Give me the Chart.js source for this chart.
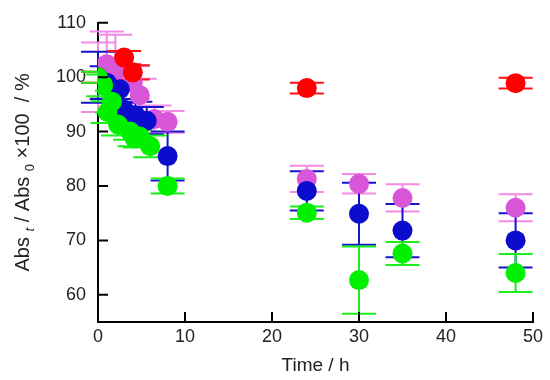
<!DOCTYPE html>
<html>
<head>
<meta charset="utf-8">
<script src="https://cdn.jsdelivr.net/npm/chart.js@4.4.1/dist/chart.umd.min.js"></script>
<style>
  html, body { margin: 0; padding: 0; background: #fff; }
  #wrap { width: 550px; height: 380px; }
</style>
</head>
<body>
<div id="wrap"><canvas id="chart"></canvas></div>
<script>
const xTicks = [0, 10, 20, 30, 40, 50];
const yTicks = [60, 70, 80, 90, 100, 110];

const redTime  = [0, 3, 4, 24, 48];
const redValue = [100, 103.6, 100.9, 98.0, 98.9];
const redError = [1, 1.2, 1.3, 1.0, 1.0];

const blueTime  = [0, 1, 2.5, 3, 4.3, 5.6, 8, 24, 30, 35, 48];
const blueValue = [100, 99.0, 97.8, 94.0, 93.0, 92.0, 85.5, 79.1, 74.9, 71.8, 70.0];
const blueError = [4.7, 3, 2.5, 2, 2.5, 2.5, 4.5, 3.6, 5.7, 4.9, 5.0];

const pinkTime  = [0, 1, 2, 4, 4.8, 6.5, 8, 24, 30, 35, 48];
const pinkValue = [100, 102.4, 101.0, 99.0, 96.7, 92.3, 91.8, 81.3, 80.4, 77.8, 76.0];
const pinkError = [6.4, 6, 6.8, 3, 3, 2.5, 2, 2.4, 1.8, 2.5, 2.5];

const greenTime  = [0, 0.6, 1.1, 1.6, 2.3, 3.7, 4.2, 4.8, 6, 8, 24, 30, 35, 48];
const greenValue = [100, 98.5, 93.6, 95.5, 91.3, 90.0, 88.8, 89.1, 87.3, 80.0, 75.1, 62.7, 67.6, 64.0];
const greenError = [1, 2, 2, 2, 2, 1.5, 1.5, 2, 2, 1.4, 1.15, 6.2, 2.1, 3.5];

const FONT = "'Liberation Sans', Arial, sans-serif";

function series(times, values, errors, color, barColor) {
    return {
        data: times.map((t, i) => ({x: t, y: values[i]})),
        errors: errors,
        barColor: barColor,
        backgroundColor: color,
        borderWidth: 0,
        pointRadius: 10,
        pointHoverRadius: 10,
        showLine: false
    };
}

// vertical error bars with wide caps, drawn under the markers
const errorBars = {
    id: 'errorBars',
    beforeDatasetsDraw(chart) {
        const ctx = chart.ctx;
        const xs = chart.scales.x, ys = chart.scales.y;
        ctx.save();
        ctx.lineWidth = 2;
        chart.data.datasets.slice().reverse().forEach(ds => {
            ctx.strokeStyle = ds.barColor;
            ds.data.forEach((p, i) => {
                const e = ds.errors[i];
                const px = xs.getPixelForValue(p.x);
                const top = ys.getPixelForValue(p.y + e);
                const bot = ys.getPixelForValue(p.y - e);
                ctx.beginPath();
                ctx.moveTo(px, top); ctx.lineTo(px, bot);
                ctx.moveTo(px - 17, top); ctx.lineTo(px + 17, top);
                ctx.moveTo(px - 17, bot); ctx.lineTo(px + 17, bot);
                ctx.stroke();
            });
        });
        ctx.restore();
    }
};

// inward tick marks and the y title with subscripts
const axisExtras = {
    id: 'axisExtras',
    afterDraw(chart) {
        const ctx = chart.ctx;
        const xs = chart.scales.x, ys = chart.scales.y;
        const area = chart.chartArea;
        ctx.save();
        ctx.strokeStyle = '#000';
        ctx.lineWidth = 2;
        ctx.beginPath();
        xTicks.forEach(v => {
            const px = xs.getPixelForValue(v);
            ctx.moveTo(px, area.bottom); ctx.lineTo(px, area.bottom - 10);
        });
        yTicks.forEach(v => {
            const py = ys.getPixelForValue(v);
            ctx.moveTo(area.left, py); ctx.lineTo(area.left + 10, py);
        });
        ctx.stroke();

        const parts = [
            {t: 'Abs ', f: '20px ' + FONT, dy: 0},
            {t: 't', f: 'italic 13px ' + FONT, dy: 5},
            {t: ' / Abs ', f: '20px ' + FONT, dy: 0},
            {t: '0', f: '13px ' + FONT, dy: 5},
            {t: ' \u00d7100  / %', f: '20px ' + FONT, dy: 0}
        ];
        let total = 0;
        parts.forEach(p => { ctx.font = p.f; p.w = ctx.measureText(p.t).width; total += p.w; });
        ctx.translate(29, (area.top + area.bottom) / 2);
        ctx.rotate(-Math.PI / 2);
        ctx.fillStyle = '#222';
        ctx.textBaseline = 'alphabetic';
        let x = -total / 2;
        parts.forEach(p => {
            ctx.font = p.f;
            ctx.fillText(p.t, x, p.dy);
            x += p.w;
        });
        ctx.restore();
    }
};

new Chart(document.getElementById('chart'), {
    type: 'scatter',
    data: {
        datasets: [
            series(greenTime, greenValue, greenError, '#00f000', '#18f018'),
            series(redTime, redValue, redError, '#ff0000', '#ff1010'),
            series(blueTime, blueValue, blueError, '#0c0ccc', '#1414cc'),
            series(pinkTime, pinkValue, pinkError, '#d856d8', '#f48ae6')
        ]
    },
    options: {
        responsive: true,
        maintainAspectRatio: false,
        animation: false,
        layout: { padding: { top: 18, right: 17, left: 0, bottom: 0 } },
        plugins: { legend: { display: false }, tooltip: { enabled: false } },
        scales: {
            x: {
                type: 'linear',
                min: 0, max: 50,
                afterBuildTicks: s => { s.ticks = xTicks.map(v => ({value: v})); },
                afterFit: s => { s.height = 58; },
                grid: { display: false, drawTicks: false },
                border: { display: true, color: '#000', width: 2 },
                ticks: { color: '#222', padding: 4, font: { family: FONT, size: 18 } },
                title: { display: true, text: 'Time / h', color: '#222', padding: { top: 3, bottom: 3 },
                         font: { family: FONT, size: 19 } }
            },
            y: {
                type: 'linear',
                min: 55, max: 110,
                afterBuildTicks: s => { s.ticks = yTicks.map(v => ({value: v})); },
                afterFit: s => { s.width = 98; },
                grid: { display: false, drawTicks: false },
                border: { display: true, color: '#000', width: 2 },
                ticks: { color: '#222', padding: 12, font: { family: FONT, size: 18 } }
            }
        }
    },
    plugins: [errorBars, axisExtras]
});
</script>
</body>
</html>
